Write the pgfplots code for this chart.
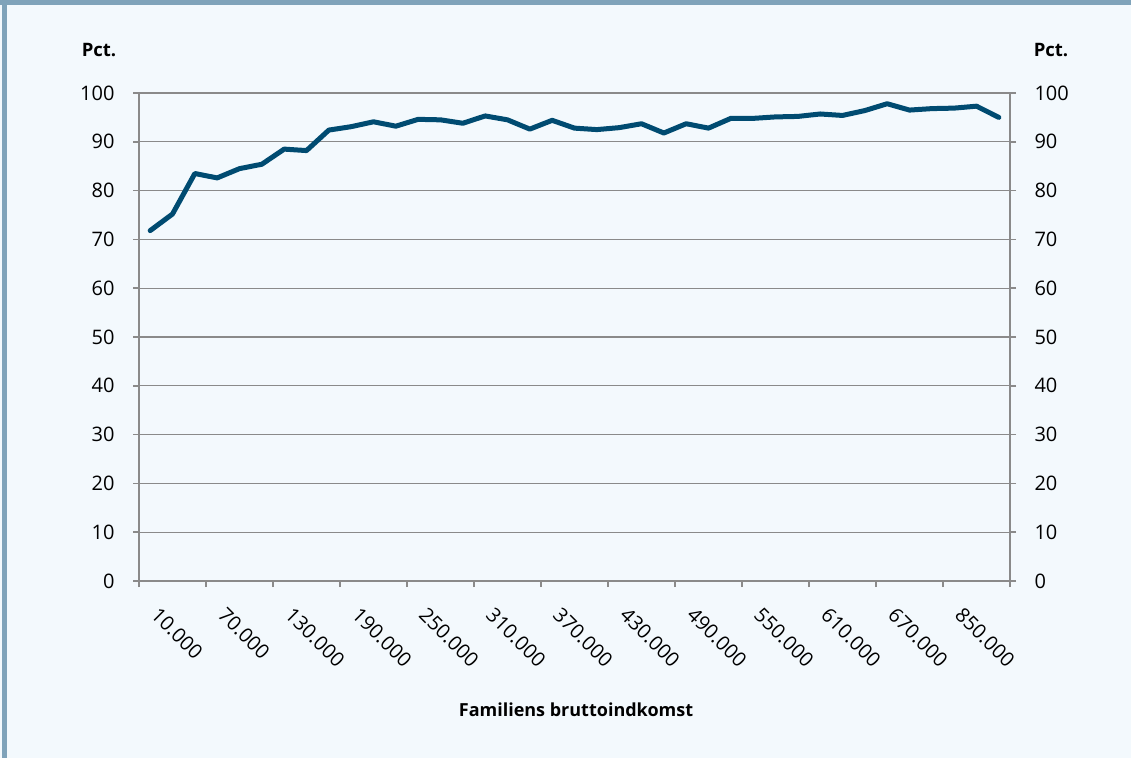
\documentclass[border=0pt]{standalone}
\usepackage{fontspec}
\setmainfont{Open Sans}
\usepackage{pgfplots}
\pgfplotsset{compat=1.18}
\definecolor{bgc}{HTML}{F3F9FD}
\definecolor{framec}{HTML}{7FA3BA}
\definecolor{linec}{HTML}{004B71}
\definecolor{gridc}{HTML}{8A8A8A}
\begin{document}
\begin{tikzpicture}[x=1pt,y=1pt]
\fill[bgc] (0,0) rectangle (1131,758);
\fill[framec] (0,753) rectangle (1131,758);
\fill[framec] (2,0) rectangle (7,758);
\begin{axis}[
  at={(139pt,177pt)}, anchor=south west,
  width=871pt, height=488pt, scale only axis,
  xmin=-0.5, xmax=38.5, ymin=0, ymax=100,
  font=\fontsize{20}{24}\selectfont,
  /pgf/number format/assume math mode=true,
  axis line style={gridc, line width=1.6pt},
  tick style={gridc, line width=1.6pt},
  tick align=outside, major tick length=6pt,
  ytick={0,10,20,30,40,50,60,70,80,90,100},
  ytick pos=both,
  ymajorgrids, grid style={gridc, line width=1.3pt},
  yticklabel style={anchor=east, xshift=-15pt},
  xtick={-0.5,2.5,5.5,8.5,11.5,14.5,17.5,20.5,23.5,26.5,29.5,32.5,35.5,38.5},
  xticklabels={},
  xtick pos=left,
  extra x ticks={0,3,6,9,12,15,18,21,24,27,30,33,36},
  extra x tick labels={10.000,70.000,130.000,190.000,250.000,310.000,370.000,430.000,490.000,550.000,610.000,670.000,850.000},
  extra x tick style={major tick length=0pt, grid=none,
    xticklabel style={inner sep=0pt, rotate=-45, anchor=north west, xshift=24.8pt, yshift=-10.6pt}},
  clip=false,
]
\addplot[linec, line width=5pt, line join=round, line cap=round] coordinates {
(0,71.8) (1,75.2) (2,83.5) (3,82.6) (4,84.5) (5,85.4) (6,88.5) (7,88.2)
(8,92.4) (9,93.1) (10,94.1) (11,93.2) (12,94.6) (13,94.5) (14,93.8) (15,95.3)
(16,94.5) (17,92.6) (18,94.4) (19,92.8) (20,92.5) (21,92.9) (22,93.7) (23,91.8)
(24,93.7) (25,92.8) (26,94.8) (27,94.8) (28,95.1) (29,95.2) (30,95.7) (31,95.4)
(32,96.4) (33,97.8) (34,96.5) (35,96.8) (36,96.9) (37,97.3) (38,95.0)
};
\end{axis}
\begin{axis}[
  at={(139pt,177pt)}, anchor=south west,
  width=871pt, height=488pt, scale only axis,
  xmin=-0.5, xmax=38.5, ymin=0, ymax=100,
  font=\fontsize{20}{24}\selectfont,
  /pgf/number format/assume math mode=true,
  axis line style={draw=none}, tick style={draw=none},
  xtick=\empty,
  ytick={0,10,20,30,40,50,60,70,80,90,100},
  ytick pos=right, yticklabel pos=right,
  yticklabel style={anchor=west, xshift=21pt},
]
\end{axis}
\node[font=\fontsize{18.5}{22}\selectfont\bfseries] at (99,708) {Pct.};
\node[font=\fontsize{18.5}{22}\selectfont\bfseries] at (1051,708) {Pct.};
\node[font=\fontsize{18}{22}\selectfont\bfseries] at (576,48) {Familiens bruttoindkomst};
\end{tikzpicture}
\end{document}
